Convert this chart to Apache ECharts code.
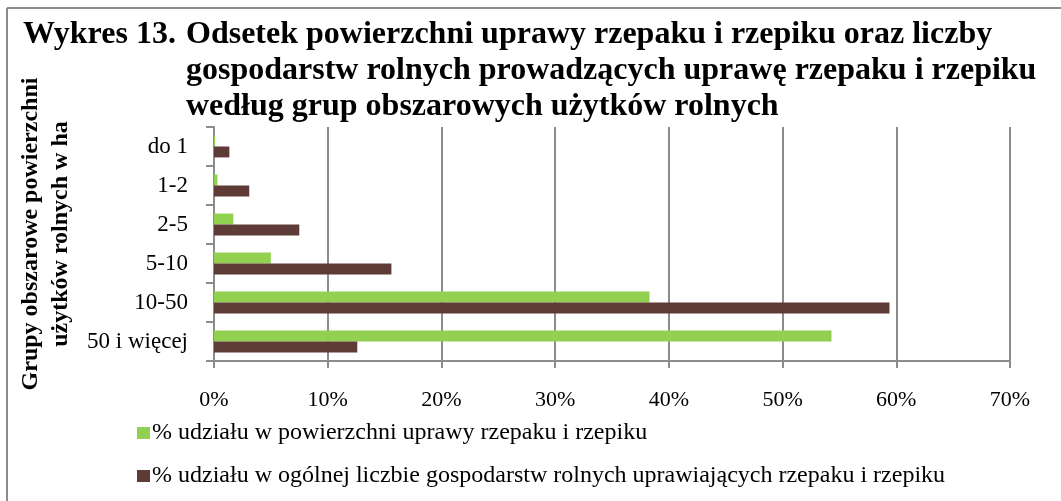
<!DOCTYPE html>
<html>
<head>
<meta charset="utf-8">
<script src="https://cdn.jsdelivr.net/npm/echarts@6/dist/echarts.min.js"></script>
<style>
html,body{margin:0;padding:0;background:#fff;}
#chart{width:1061px;height:501px;}
</style>
</head>
<body>
<div id="chart"></div>
<script>
const categories = ['do 1', '1-2', '2-5', '5-10', '10-50', '50 i więcej'];
const areaShare = [0.1, 0.3, 1.7, 5.0, 38.3, 54.3];
const farmShare = [1.35, 3.1, 7.5, 15.6, 59.4, 12.6];
const seriesNames = [
  '% udziału w powierzchni uprawy rzepaku i rzepiku',
  '% udziału w ogólnej liczbie gospodarstw rolnych uprawiających rzepaku i rzepiku'
];
const xTicks = [0, 10, 20, 30, 40, 50, 60, 70];

const serif = '"Liberation Serif", "Times New Roman", serif';
const chart = echarts.init(document.getElementById('chart'), null, {renderer: 'canvas'});
chart.setOption({
  backgroundColor: '#fff',
  animation: false,
  title: [
    {
      text: 'Wykres 13.',
      left: 23, top: 17, padding: 0,
      textStyle: {fontFamily: serif, fontWeight: 'bold', fontSize: 32, color: '#000', lineHeight: 36}
    },
    {
      text: 'Odsetek powierzchni uprawy rzepaku i rzepiku oraz liczby\ngospodarstw rolnych prowadzących uprawę rzepaku i rzepiku\nwedług grup obszarowych użytków rolnych',
      left: 186, top: 17, padding: 0,
      textStyle: {fontFamily: serif, fontWeight: 'bold', fontSize: 32, color: '#000', lineHeight: 36}
    }
  ],
  graphic: [
    {type: 'line', shape: {x1: 7, y1: 8, x2: 1061, y2: 8}, style: {stroke: '#8c8c8c', lineWidth: 2}},
    {type: 'line', shape: {x1: 7, y1: 8, x2: 7, y2: 501}, style: {stroke: '#8c8c8c', lineWidth: 2}}
  ],
  legend: {
    orient: 'vertical',
    left: 137, top: 421, padding: 0,
    itemWidth: 13, itemHeight: 12,
    itemGap: 19,
    itemStyle: {borderWidth: 0},
    icon: 'rect',
    textStyle: {fontFamily: serif, fontSize: 24, color: '#000', padding: [0, 0, 0, -3]},
    data: seriesNames
  },
  grid: {left: 214, right: 51, top: 127, bottom: 140, containLabel: false, outerBoundsMode: 'none'},
  xAxis: {
    type: 'value',
    min: xTicks[0], max: xTicks[xTicks.length - 1], interval: 10,
    axisLine: {show: true, lineStyle: {color: '#8c8c8c', width: 2}},
    axisTick: {show: true, length: 7, lineStyle: {color: '#8c8c8c', width: 2}},
    splitLine: {show: true, lineStyle: {color: '#8c8c8c', width: 2}},
    axisLabel: {formatter: '{value}%', margin: 28, fontFamily: serif, fontSize: 22, color: '#000'}
  },
  yAxis: {
    type: 'category',
    inverse: true,
    data: categories,
    name: 'Grupy obszarowe powierzchni\nużytków rolnych w ha',
    nameLocation: 'middle',
    nameRotate: 90,
    nameGap: 135,
    nameTextStyle: {fontFamily: serif, fontWeight: 'bold', fontSize: 24, color: '#000', lineHeight: 30, padding: [0, 0, 0, 20]},
    axisLine: {show: true, lineStyle: {color: '#8c8c8c', width: 2}},
    axisTick: {show: true, length: 8, lineStyle: {color: '#8c8c8c', width: 2}},
    axisLabel: {margin: 26, fontFamily: serif, fontSize: 23, color: '#000'},
    splitLine: {show: false}
  },
  series: [
    {
      name: seriesNames[0], type: 'bar', data: areaShare,
      barGap: '0%', barCategoryGap: '44%',
      itemStyle: {color: '#92d050'}
    },
    {
      name: seriesNames[1], type: 'bar', data: farmShare,
      barGap: '0%', barCategoryGap: '44%',
      itemStyle: {color: '#5f3b37'}
    }
  ]
});
</script>
</body>
</html>
